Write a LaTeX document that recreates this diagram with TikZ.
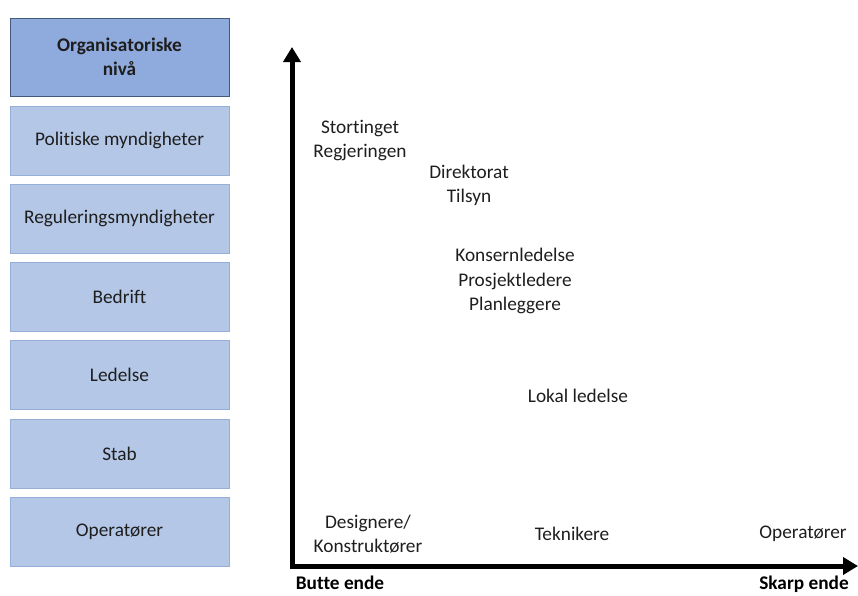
\documentclass[tikz,border=0pt]{standalone}
\usepackage{fontspec}
\setmainfont{Carlito}[Ligatures=NoCommon]
\usetikzlibrary{arrows.meta}
\definecolor{headfill}{RGB}{143,170,220}
\definecolor{headline}{RGB}{68,90,125}
\definecolor{levelfill}{RGB}{180,199,231}
\definecolor{levelline}{RGB}{150,175,215}
\definecolor{ink}{RGB}{30,30,30}
\begin{document}
\begin{tikzpicture}[x=1pt,y=-1pt,
  every node/.style={font=\fontsize{19.3}{24.5}\selectfont, text=ink, inner sep=0pt},
  levelbox/.style={draw=levelline, line width=1pt, fill=levelfill,
    minimum width=219pt, minimum height=69pt},
  headbox/.style={draw=headline, line width=1pt, fill=headfill,
    minimum width=219pt, minimum height=78pt, align=center,
    font=\fontsize{19.3}{24.5}\selectfont\bfseries},
  role/.style={align=center},
  endlabel/.style={font=\fontsize{19.3}{24.5}\selectfont\bfseries, text=black, anchor=base},
  axis/.style={line width=5pt, line join=miter, black,
    {Triangle[length=15pt,width=17pt]}-{Triangle[length=15pt,width=17pt]}}]
\useasboundingbox (0,0) rectangle (858,595);

% organisational levels
\node[headbox]  (head) at (119.5,57)    {Organisatoriske\\nivå};
\node[levelbox] (pol)  at (119.5,140.5) {Politiske myndigheter};
\node[levelbox] (reg)  at (119.5,218.5) {Reguleringsmyndigheter};
\node[levelbox] (bed)  at (119.5,296.5) {Bedrift};
\node[levelbox] (led)  at (119.5,375)   {Ledelse};
\node[levelbox] (stab) at (119.5,453.5) {Stab};
\node[levelbox] (ope)  at (119.5,532)   {Operatører};

% axes
\coordinate (ytop)   at (292,47);
\coordinate (origin) at (292,566);
\coordinate (xend)   at (858,566);
\draw[axis] (ytop) -- (origin) -- (xend);

% actors placed along the axes
\node[role] (sto)  at (360,140.5) {Stortinget\\Regjeringen};
\node[role] (dir)  at (469,185.5) {Direktorat\\Tilsyn};
\node[role] (kon)  at (515,281)   {Konsernledelse\\Prosjektledere\\Planleggere};
\node[role] (lok)  at (578,396)   {Lokal ledelse};
\node[role] (des)  at (368,534)   {Designere/\\Konstruktører};
\node[role] (tek)  at (572,534)   {Teknikere};
\node[role] (opr)  at (803,534)   {Operatører};

% ends of the horizontal axis
\node[endlabel] (butt)  at (340,589) {Butte ende};
\node[endlabel] (skarp) at (804,589) {Skarp ende};
\end{tikzpicture}
\end{document}
